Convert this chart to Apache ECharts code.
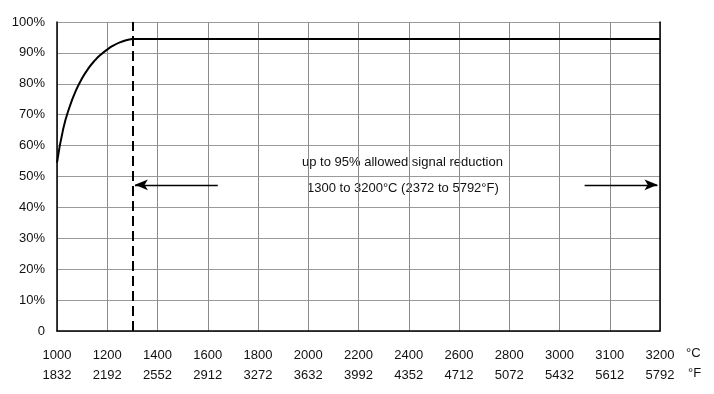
<!DOCTYPE html>
<html>
<head>
<meta charset="utf-8">
<script src="https://cdn.jsdelivr.net/npm/echarts@6/dist/echarts.min.js"></script>
<style>
html,body{margin:0;padding:0;background:#fff;}
#chart{width:714px;height:394px;}
</style>
</head>
<body>
<div id="chart"></div>
<script>
// Tick labels
const celsiusTicks = [1000, 1200, 1400, 1600, 1800, 2000, 2200, 2400, 2600, 2800, 3000, 3100, 3200];
const fahrenheitTicks = [1832, 2192, 2552, 2912, 3272, 3632, 3992, 4352, 4712, 5072, 5432, 5612, 5792];
const yTickLabels = ['0', '10%', '20%', '30%', '40%', '50%', '60%', '70%', '80%', '90%', '100%'];

// Rising curve (°C, % signal reduction)
const riseCelsius = [1000, 1025, 1050, 1075, 1100, 1125, 1150, 1175, 1200, 1225, 1250, 1275, 1300];
const riseSignal  = [54.5, 65.5, 72.5, 77.8, 81.8, 85.0, 87.5, 89.5, 91.1, 92.4, 93.4, 94.1, 94.5];

// Plateau
const plateauCelsius = [1300, 3200];
const plateauSignal  = [94.5, 94.5];

// Limit line and arrows
const limitCelsius = 1300;
const arrowLevel = 47.3;
const leftArrowCelsius = [1640, 1310];
const rightArrowCelsius = [3050, 3195];

// Map °C to axis position using the tick labels
function pos(c) {
  for (let i = 0; i < celsiusTicks.length - 1; i++) {
    const a = celsiusTicks[i], b = celsiusTicks[i + 1];
    if (c >= a && c <= b) return i + (c - a) / (b - a);
  }
  return c < celsiusTicks[0] ? 0 : celsiusTicks.length - 1;
}

const FONT = 'Liberation Sans, Arial, sans-serif';
const chart = echarts.init(document.getElementById('chart'));
chart.setOption({
  animation: false,
  backgroundColor: '#fff',
  grid: { left: 57, right: 54, top: 22, bottom: 63, containLabel: false },
  xAxis: {
    type: 'value', min: 0, max: celsiusTicks.length - 1, interval: 1,
    axisLine: { show: true, onZero: false, lineStyle: { color: '#000', width: 1.5 } },
    axisTick: { show: false },
    splitLine: { show: true, lineStyle: { color: '#8c8c8c', width: 1 } },
    axisLabel: {
      margin: 14, color: '#111', fontFamily: FONT, fontSize: 13, lineHeight: 20,
      formatter: v => celsiusTicks[v] + '\n' + fahrenheitTicks[v]
    }
  },
  yAxis: [{
    type: 'value', min: 0, max: 100, interval: 10,
    axisLine: { show: true, lineStyle: { color: '#000', width: 1.5 } },
    axisTick: { show: false },
    splitLine: { show: true, lineStyle: { color: '#9a9a9a', width: 1 } },
    axisLabel: {
      margin: 12, color: '#111', fontFamily: FONT, fontSize: 13,
      formatter: v => yTickLabels[Math.round(v / 10)]
    }
  }, {
    type: 'value', min: 0, max: 100, position: 'right',
    axisLine: { show: true, lineStyle: { color: '#000', width: 1.5 } },
    axisTick: { show: false }, axisLabel: { show: false }, splitLine: { show: false }
  }],
  series: [{
    type: 'line',
    data: riseCelsius.map((c, i) => [pos(c), riseSignal[i]]),
    smooth: 0.5, showSymbol: false,
    lineStyle: { color: '#000', width: 2 },
    markLine: {
      silent: true, symbol: 'none', label: { show: false },
      lineStyle: { color: '#000', width: 2, type: [10, 5] },
      data: [{ xAxis: pos(limitCelsius) }]
    }
  }, {
    type: 'line',
    data: plateauCelsius.map((c, i) => [pos(c), plateauSignal[i]]),
    showSymbol: false,
    lineStyle: { color: '#000', width: 2.2 },
    markLine: {
      silent: true, symbol: ['none', 'arrow'], symbolSize: [8, 13],
      label: { show: false },
      lineStyle: { color: '#000', width: 1.3, type: 'solid' },
      data: [
        [{ coord: [pos(leftArrowCelsius[0]), arrowLevel] }, { coord: [pos(leftArrowCelsius[1]), arrowLevel] }],
        [{ coord: [pos(rightArrowCelsius[0]), arrowLevel] }, { coord: [pos(rightArrowCelsius[1]), arrowLevel] }]
      ]
    }
  }],
  graphic: [
    { type: 'text', left: 302, top: 156, style: { text: 'up to 95% allowed signal reduction', font: '13px ' + FONT, fill: '#111' } },
    { type: 'text', left: 307, top: 182, style: { text: '1300 to 3200°C (2372 to 5792°F)', font: '13px ' + FONT, fill: '#111' } },
    { type: 'text', left: 686, top: 347, style: { text: '°C', font: '13px ' + FONT, fill: '#111' } },
    { type: 'text', left: 688, top: 367, style: { text: '°F', font: '13px ' + FONT, fill: '#111' } }
  ]
});
</script>
</body>
</html>
